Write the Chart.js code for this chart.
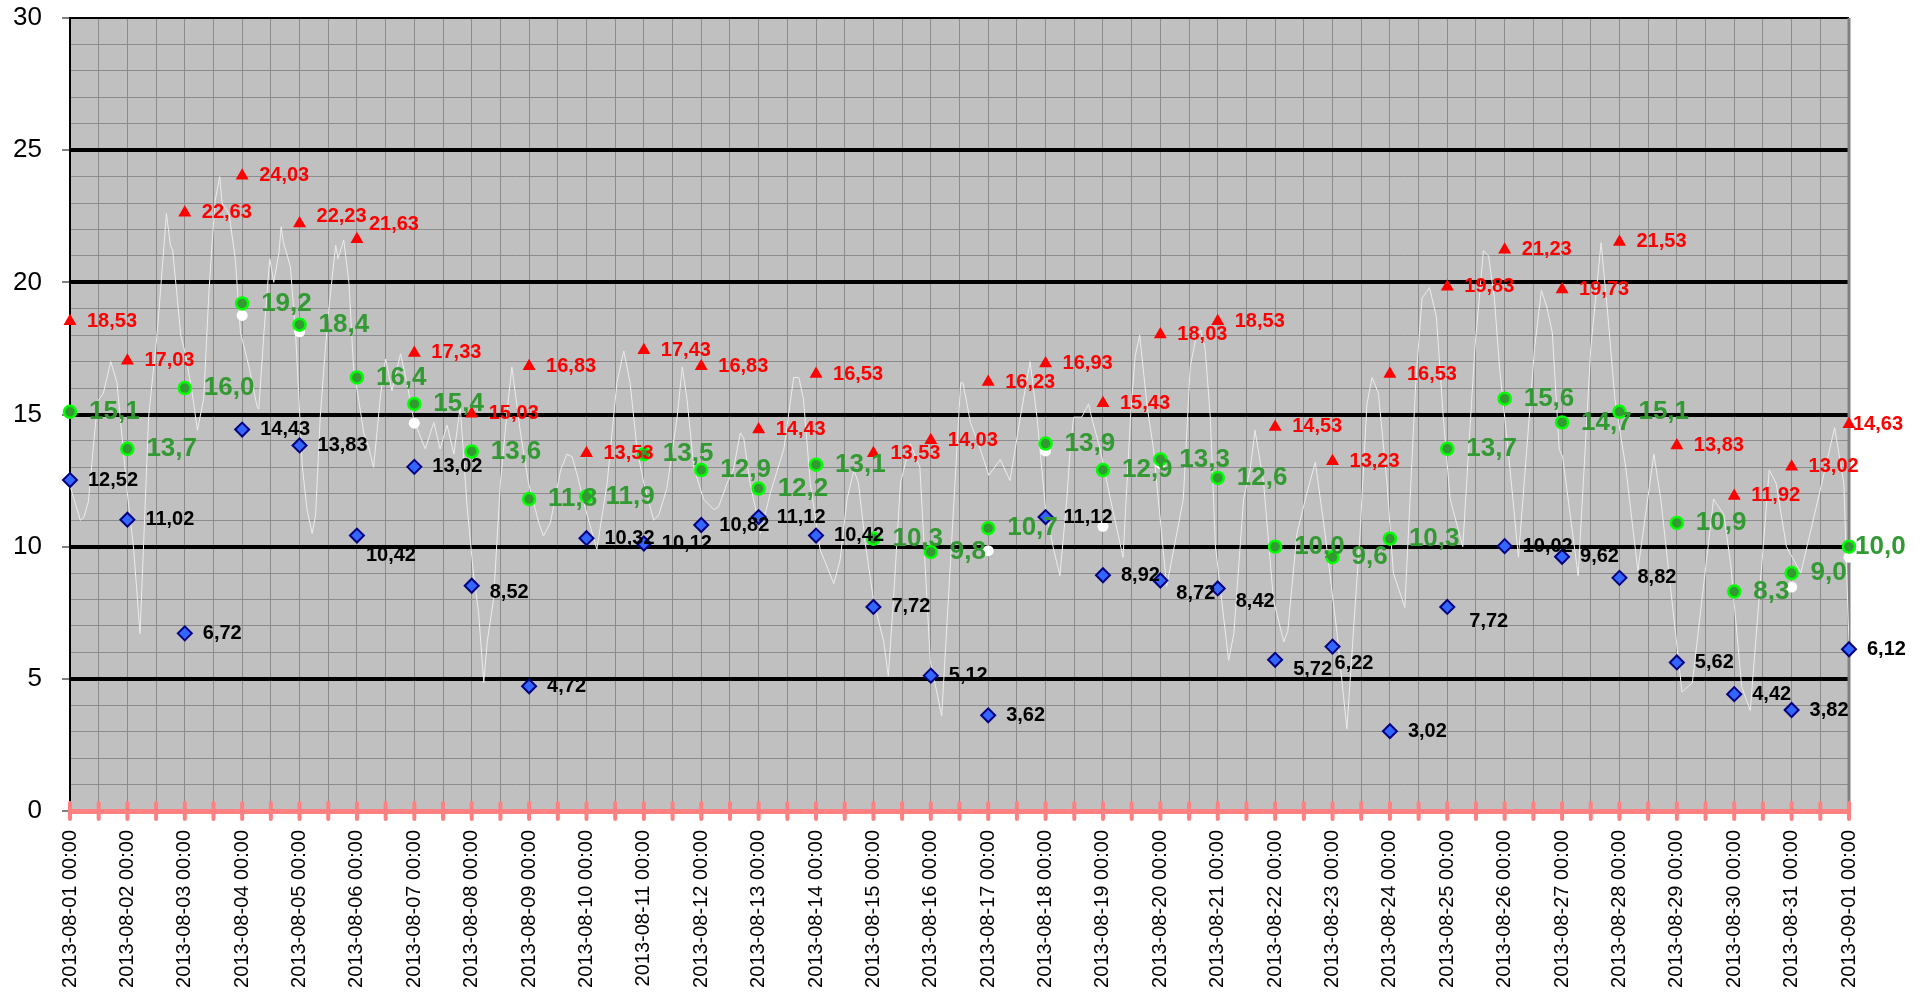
<!DOCTYPE html>
<html>
<head>
<meta charset="utf-8">
<script src="https://cdn.jsdelivr.net/npm/chart.js@4.4.1/dist/chart.umd.min.js"></script>
<style>
    html, body { margin: 0; padding: 0; background: #ffffff; }
    canvas { display: block; }
</style>
</head>
<body>
<canvas id="temperature-chart" width="1930" height="997"></canvas>
<script>
var dayLabels = [
    "2013-08-01 00:00", "2013-08-02 00:00", "2013-08-03 00:00", "2013-08-04 00:00",
    "2013-08-05 00:00", "2013-08-06 00:00", "2013-08-07 00:00", "2013-08-08 00:00",
    "2013-08-09 00:00", "2013-08-10 00:00", "2013-08-11 00:00", "2013-08-12 00:00",
    "2013-08-13 00:00", "2013-08-14 00:00", "2013-08-15 00:00", "2013-08-16 00:00",
    "2013-08-17 00:00", "2013-08-18 00:00", "2013-08-19 00:00", "2013-08-20 00:00",
    "2013-08-21 00:00", "2013-08-22 00:00", "2013-08-23 00:00", "2013-08-24 00:00",
    "2013-08-25 00:00", "2013-08-26 00:00", "2013-08-27 00:00", "2013-08-28 00:00",
    "2013-08-29 00:00", "2013-08-30 00:00", "2013-08-31 00:00", "2013-09-01 00:00"
];

// dagliga värden, ett per datum ovan
var maxValues = [18.53, 17.03, 22.63, 24.03, 22.23, 21.63, 17.33, 15.03, 16.83, 13.53, 17.43, 16.83,
    14.43, 16.53, 13.53, 14.03, 16.23, 16.93, 15.43, 18.03, 18.53, 14.53, 13.23, 16.53,
    19.83, 21.23, 19.73, 21.53, 13.83, 11.92, 13.02, 14.63];
var meanValues = [15.1, 13.7, 16.0, 19.2, 18.4, 16.4, 15.4, 13.6, 11.8, 11.9, 13.5, 12.9,
    12.2, 13.1, 10.3, 9.8, 10.7, 13.9, 12.9, 13.3, 12.6, 10.0, 9.6, 10.3,
    13.7, 15.6, 14.7, 15.1, 10.9, 8.3, 9.0, 10.0];
var minValues = [12.52, 11.02, 6.72, 14.43, 13.83, 10.42, 13.02, 8.52, 4.72, 10.32, 10.12, 10.82,
    11.12, 10.42, 7.72, 5.12, 3.62, 11.12, 8.92, 8.72, 8.42, 5.72, 6.22, 3.02,
    7.72, 10.02, 9.62, 8.82, 5.62, 4.42, 3.82, 6.12];
// vita punkter, bara de som syns i bilden
var midnightValues = [null, null, null, 18.75, 18.13, null, 14.67, null, null, null, null, null,
    null, null, null, null, 9.85, 13.62, 10.77, 13.15, null, null, null, null,
    null, null, null, null, null, null, 8.47, 9.6];

// temperaturkurvan: tid i dygn efter 2013-08-01 00:00
var curveTimes = [0.00, 0.18, 0.24, 0.32, 0.48, 0.58, 0.71, 0.82, 0.87, 1.00, 1.11, 1.22, 1.29, 1.37,
    1.52, 1.61, 1.68, 1.75, 1.79, 1.93, 2.01, 2.13, 2.22, 2.33, 2.42, 2.48, 2.53, 2.61, 2.65, 2.77,
    2.88, 2.97, 3.12, 3.26, 3.29, 3.38, 3.48, 3.55, 3.64, 3.68, 3.72, 3.84, 3.93, 4.05, 4.13, 4.22,
    4.28, 4.36, 4.45, 4.52, 4.63, 4.67, 4.77, 4.86, 4.94, 5.12, 5.20, 5.29, 5.41, 5.50, 5.61, 5.76,
    5.87, 5.99, 6.19, 6.34, 6.45, 6.57, 6.69, 6.80, 6.92, 7.03, 7.12, 7.21, 7.27, 7.38, 7.50, 7.62,
    7.70, 7.85, 7.99, 8.17, 8.25, 8.37, 8.55, 8.66, 8.75, 8.84, 9.01, 9.18, 9.36, 9.53, 9.65, 9.76,
    9.88, 10.00, 10.17, 10.26, 10.40, 10.58, 10.67, 10.75, 10.87, 11.04, 11.22, 11.30, 11.45, 11.56,
    11.68, 11.74, 11.85, 11.97, 12.03, 12.20, 12.44, 12.61, 12.70, 12.78, 12.90, 13.07, 13.31, 13.42,
    13.54, 13.66, 13.74, 13.86, 14.00, 14.18, 14.26, 14.35, 14.47, 14.64, 14.81, 14.99, 15.19, 15.34,
    15.52, 15.56, 15.69, 15.86, 16.01, 16.21, 16.38, 16.56, 16.73, 16.85, 17.00, 17.14, 17.25, 17.37,
    17.43, 17.49, 17.63, 17.75, 17.80, 17.95, 18.13, 18.30, 18.35, 18.48, 18.56, 18.64, 18.77, 18.88,
    19.11, 19.40, 19.52, 19.61, 19.70, 19.78, 19.87, 19.96, 20.19, 20.28, 20.45, 20.57, 20.65, 20.80,
    20.97, 21.15, 21.22, 21.38, 21.55, 21.70, 21.87, 22.08, 22.25, 22.48, 22.60, 22.69, 22.80, 22.95,
    23.06, 23.26, 23.45, 23.56, 23.69, 23.81, 23.93, 24.05, 24.27, 24.48, 24.63, 24.72, 24.82, 24.91,
    25.09, 25.24, 25.52, 25.64, 25.73, 25.83, 25.95, 26.01, 26.28, 26.50, 26.68, 26.80, 26.92, 27.11,
    27.32, 27.60, 27.72, 28.09, 28.27, 28.64, 28.82, 28.94, 29.13, 29.28, 29.61, 29.73, 29.91, 30.16,
    30.59, 30.75, 30.91, 31.00];
var curveValues = [12.3, 11.0, 11.1, 11.7, 15.5, 15.8, 17.0, 16.2, 15.0, 12.0, 9.9, 6.7, 10.5, 14.9,
    18.1, 20.6, 22.6, 21.4, 21.2, 18.0, 17.3, 15.8, 14.4, 15.6, 19.6, 21.6, 23.1, 24.0, 23.0, 22.6,
    20.9, 18.1, 16.8, 15.3, 15.2, 18.1, 20.9, 20.0, 21.1, 22.1, 21.5, 20.6, 18.1, 13.0, 11.4, 10.5,
    11.2, 14.9, 17.5, 19.2, 21.4, 20.9, 21.6, 20.0, 16.8, 14.3, 13.8, 13.0, 15.7, 17.1, 15.9, 17.3,
    16.2, 14.8, 13.7, 14.7, 13.7, 14.6, 13.5, 15.3, 11.5, 9.0, 7.5, 4.85, 6.4, 8.0, 12.4, 15.2,
    16.8, 14.3, 12.4, 10.9, 10.4, 10.9, 12.9, 13.5, 13.4, 12.7, 11.2, 9.9, 12.4, 16.2, 17.4, 16.2,
    13.7, 12.4, 11.0, 11.2, 12.2, 14.9, 16.8, 15.6, 13.0, 11.8, 11.4, 11.5, 12.4, 12.9,
    14.3, 14.1, 12.4, 11.2, 10.5, 12.0, 13.7, 16.4, 16.4, 15.6, 12.4, 9.9, 8.6, 9.5,
    11.8, 12.9, 12.4, 10.1, 8.0, 6.4, 5.1, 8.0, 12.4, 13.9, 13.0, 5.7, 3.6, 9.3,
    16.2, 16.2, 14.7, 13.7, 12.7, 13.3, 12.5, 14.9, 17.0, 14.9, 11.4, 9.9, 8.9, 11.8,
    13.7, 14.9, 14.9, 15.4, 14.9, 13.7, 11.8, 10.1, 9.6, 14.9, 17.2, 18.0, 15.3, 13.7,
    8.5, 11.8, 16.8, 17.8, 18.2, 17.5, 14.9, 10.0, 5.7, 6.7, 11.8, 13.0, 14.4, 12.4,
    8.0, 6.4, 6.8, 10.5, 12.0, 13.2, 10.5, 6.7, 3.1, 10.5, 15.4, 16.4, 15.8, 12.4,
    9.0, 7.7, 16.2, 19.4, 19.8, 18.7, 14.9, 11.8, 10.0, 17.5, 21.2, 21.0, 19.4, 16.8,
    13.0, 9.6, 17.5, 19.7, 19.1, 18.1, 13.7, 13.4, 8.9, 17.5, 21.5, 18.7, 15.6, 13.0,
    9.1, 13.5, 11.8, 4.5, 4.85, 11.8, 11.2, 9.3, 4.7, 3.8, 12.9, 12.4, 10.0, 9.0,
    13.0, 14.5, 12.4, 6.3];

// etiketter som Excel flyttat lite (index: [dx, dy])
var labelNudge = {
    max: { 4: [0, -7], 5: [-5, -15], 31: [-13, 0] },
    mean: { 31: [-13, 0] },
    min: { 5: [-9, 20], 7: [0, 7], 19: [-2, 13], 20: [0, 13], 21: [0, 10], 22: [-16, 17], 24: [4, 15] }
};

(
    function () {
        var canvas = document.getElementById("temperature-chart");
        var FONT = "'Liberation Sans', Arial, sans-serif";

        function daily(values) {
            return values.map(function (v, i) {
                return { x: i, y: v };
            });
        }

        var plotFrame = {
            id: "plotFrame",
            beforeDraw: function (chart) {
                var a = chart.chartArea, ctx = chart.ctx;
                ctx.save();
                ctx.fillStyle = "#c0c0c0";
                ctx.fillRect(a.left, a.top, a.right - a.left, a.bottom - a.top);
                ctx.restore();
            },
            beforeDatasetsDraw: function (chart) {
                var a = chart.chartArea, ctx = chart.ctx, xs = chart.scales.x;
                ctx.save();
                ctx.strokeStyle = "#808080";
                ctx.lineWidth = 3;
                ctx.beginPath();
                ctx.moveTo(a.right, a.top);
                ctx.lineTo(a.right, a.bottom);
                ctx.stroke();

                ctx.strokeStyle = "#ff8080";
                ctx.lineWidth = 4;
                ctx.lineCap = "round";
                ctx.beginPath();
                xs.ticks.forEach(function (t, i) {
                    var px = xs.getPixelForTick(i);
                    ctx.moveTo(px, a.bottom - 8);
                    ctx.lineTo(px, a.bottom + 8);
                });
                ctx.stroke();
                ctx.restore();
            }
        };

        var pointLabels = {
            id: "pointLabels",
            afterDatasetsDraw: function (chart) {
                var ctx = chart.ctx;
                chart.data.datasets.forEach(function (ds, di) {
                    if (!ds.labelFont) {
                        return;
                    }
                    var meta = chart.getDatasetMeta(di);
                    ctx.save();
                    ctx.font = ds.labelFont;
                    ctx.fillStyle = ds.labelColor;
                    ctx.textAlign = "left";
                    ctx.textBaseline = "middle";
                    meta.data.forEach(function (pt, i) {
                        var v = ds.data[i].y;
                        if (v === null) {
                            return;
                        }
                        var n = ds.labelNudge[i] || [0, 0];
                        ctx.fillText(v.toFixed(ds.labelDigits).replace(".", ","),
                            pt.x + ds.labelGap + n[0], pt.y + n[1]);
                    });
                    ctx.restore();
                });
            }
        };

        new Chart(canvas, {
            type: "line",
            data: {
                datasets: [
                    {
                        label: "Temperatur",
                        data: curveTimes.map(function (t, i) {
                            return { x: t, y: curveValues[i] };
                        }),
                        borderColor: "#ececec",
                        borderWidth: 1,
                        pointRadius: 0,
                        tension: 0,
                        order: 6
                    },
                    {
                        label: "00:00",
                        data: daily(midnightValues),
                        showLine: false,
                        pointStyle: "circle",
                        pointRadius: 5.5,
                        pointBackgroundColor: "#ffffff",
                        pointBorderWidth: 0,
                        clip: false,
                        order: 5
                    },
                    {
                        label: "Max",
                        data: daily(maxValues),
                        showLine: false,
                        pointStyle: "triangle",
                        pointRadius: 7.5,
                        pointBackgroundColor: "#ff0000",
                        pointBorderColor: "#ff0000",
                        pointBorderWidth: 0,
                        clip: false,
                        order: 3,
                        labelFont: "bold 20px " + FONT,
                        labelColor: "#ff0000",
                        labelDigits: 2,
                        labelGap: 17,
                        labelNudge: labelNudge.max
                    },
                    {
                        label: "Min",
                        data: daily(minValues),
                        showLine: false,
                        pointStyle: "rectRot",
                        pointRadius: 7,
                        pointBackgroundColor: "#3366ff",
                        pointBorderColor: "#000080",
                        pointBorderWidth: 2,
                        clip: false,
                        order: 2,
                        labelFont: "bold 20px " + FONT,
                        labelColor: "#000000",
                        labelDigits: 2,
                        labelGap: 18,
                        labelNudge: labelNudge.min
                    },
                    {
                        label: "Medel",
                        data: daily(meanValues),
                        showLine: false,
                        pointStyle: "circle",
                        pointRadius: 6,
                        pointBackgroundColor: "#339933",
                        pointBorderColor: "#00ff00",
                        pointBorderWidth: 2.5,
                        clip: false,
                        order: 1,
                        labelFont: "bold 26px " + FONT,
                        labelColor: "#339933",
                        labelDigits: 1,
                        labelGap: 19,
                        labelNudge: labelNudge.mean
                    }
                ]
            },
            options: {
                responsive: false,
                maintainAspectRatio: false,
                animation: false,
                events: [],
                layout: { padding: { left: 0, top: 18, right: 81, bottom: 0 } },
                plugins: {
                    legend: { display: false },
                    tooltip: { enabled: false }
                },
                scales: {
                    x: {
                        type: "linear",
                        min: 0,
                        max: 31,
                        afterFit: function (s) { s.height = 186; },
                        border: { color: "#ff8080", width: 5 },
                        grid: {
                            color: "#8c8c8c",
                            lineWidth: 1,
                            tickColor: "rgba(0,0,0,0)",
                            tickLength: 9
                        },
                        ticks: {
                            stepSize: 0.5,
                            autoSkip: false,
                            maxRotation: 90,
                            minRotation: 90,
                            padding: 10,
                            color: "#000000",
                            font: { family: FONT, size: 20 },
                            callback: function (v) {
                                return Number.isInteger(v) ? dayLabels[v] : "";
                            }
                        }
                    },
                    y: {
                        min: 0,
                        max: 30,
                        afterFit: function (s) {
                            s.width = 70;
                            s.paddingTop = 14;
                            s.paddingBottom = 14;
                        },
                        border: { color: "#000000", width: 2 },
                        grid: {
                            color: function (c) {
                                var v = c.tick.value;
                                if (v === 0) {
                                    return "rgba(0,0,0,0)";
                                }
                                return v % 5 === 0 ? "#000000" : "#8c8c8c";
                            },
                            lineWidth: function (c) {
                                var v = c.tick.value;
                                if (v === 30) {
                                    return 2;
                                }
                                return v % 5 === 0 ? 4 : 1;
                            },
                            tickColor: function (c) {
                                return c.tick.value % 5 === 0 ? "#000000" : "rgba(0,0,0,0)";
                            },
                            tickWidth: 1,
                            tickLength: 8
                        },
                        ticks: {
                            stepSize: 1,
                            autoSkip: false,
                            padding: 20,
                            color: "#000000",
                            font: { family: FONT, size: 26 },
                            callback: function (v) {
                                return v % 5 === 0 ? v : "";
                            }
                        }
                    }
                }
            },
            plugins: [plotFrame, pointLabels]
        });
    }
)();
</script>
</body>
</html>
